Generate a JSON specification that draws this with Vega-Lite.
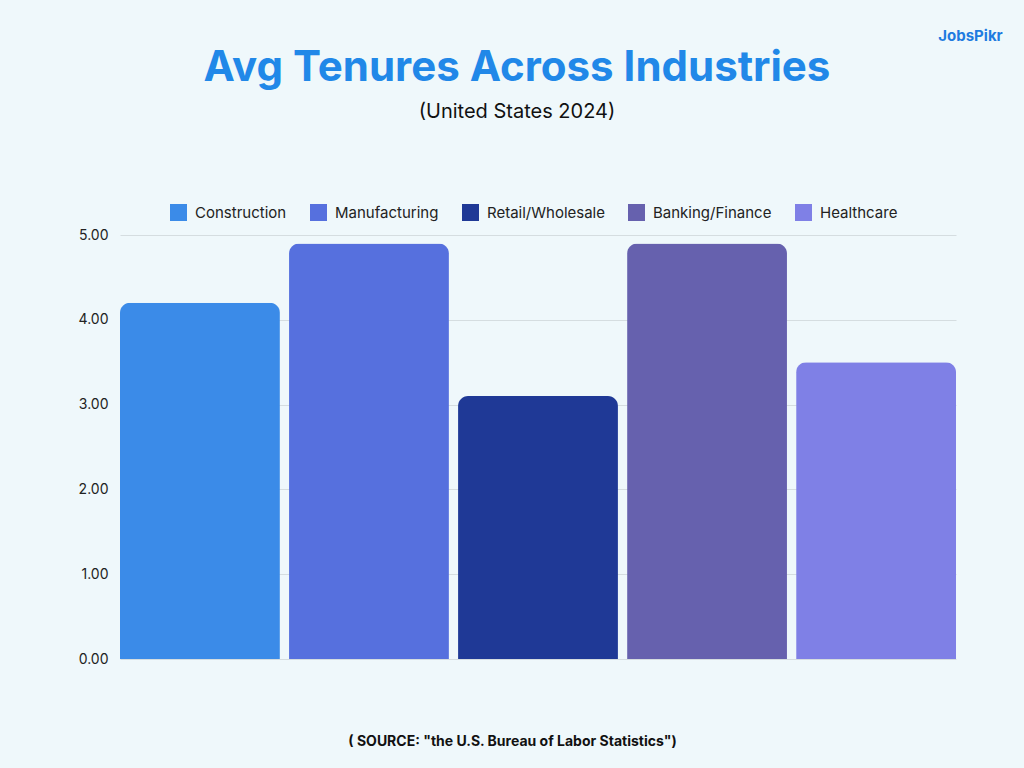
{
  "$schema": "https://vega.github.io/schema/vega-lite/v6.json",
  "width": 836,
  "height": 424,
  "autosize": "none",
  "padding": {"left": 120, "top": 235, "right": 68, "bottom": 109},
  "background": "#EFF8FB",
  "title": {
    "text": "Avg Tenures Across Industries",
    "subtitle": "(United States 2024)",
    "anchor": "middle",
    "frame": "group",
    "dx": -21,
    "font": "Inter",
    "fontSize": 42,
    "fontWeight": "bold",
    "color": "#2188E8",
    "subtitleFont": "Inter",
    "subtitleFontSize": 20,
    "subtitleColor": "#111111",
    "subtitlePadding": 12,
    "offset": -95
  },
  "data": {
    "values": [
      {"industry": "Construction", "tenure": 4.2},
      {"industry": "Manufacturing", "tenure": 4.9},
      {"industry": "Retail/Wholesale", "tenure": 3.1},
      {"industry": "Banking/Finance", "tenure": 4.9},
      {"industry": "Healthcare", "tenure": 3.5}
    ]
  },
  "mark": {"type": "bar", "cornerRadiusTopLeft": 10, "cornerRadiusTopRight": 10},
  "encoding": {
    "x": {
      "field": "industry",
      "type": "nominal",
      "sort": null,
      "scale": {"paddingInner": 0.054, "paddingOuter": 0},
      "axis": {
        "labels": false,
        "ticks": false,
        "domain": false,
        "title": "( SOURCE: \"the U.S. Bureau of Labor Statistics\")",
        "titleFont": "Inter",
        "titleFontSize": 14,
        "titleFontWeight": "bold",
        "titleColor": "#111111",
        "titleX": 392,
        "titleY": 82,
        "titleBaseline": "middle",
        "titleAnchor": null
      }
    },
    "y": {
      "field": "tenure",
      "type": "quantitative",
      "scale": {"domain": [0, 5]},
      "axis": {
        "values": [0, 1, 2, 3, 4, 5],
        "format": ".2f",
        "labelFont": "Inter",
        "labelFontSize": 14,
        "labelColor": "#222222",
        "labelPadding": 12,
        "ticks": false,
        "domain": false,
        "gridColor": "#D5DDE0",
        "title": "JobsPikr",
        "titleAngle": 0,
        "titleX": 850,
        "titleY": -200,
        "titleAlign": "center",
        "titleBaseline": "middle",
        "titleFont": "Inter",
        "titleFontSize": 15,
        "titleFontWeight": "bold",
        "titleColor": "#1E7BE0"
      }
    },
    "color": {
      "field": "industry",
      "type": "nominal",
      "sort": null,
      "scale": {
        "domain": ["Construction", "Manufacturing", "Retail/Wholesale", "Banking/Finance", "Healthcare"],
        "range": ["#3B8BE8", "#5670DE", "#1F3996", "#6661AE", "#7F80E6"]
      },
      "legend": {
        "orient": "none",
        "direction": "horizontal",
        "legendX": 50,
        "legendY": -31,
        "title": null,
        "symbolType": "square",
        "symbolSize": 289,
        "symbolOpacity": 1,
        "symbolStrokeWidth": 0,
        "labelFont": "Inter",
        "labelFontSize": 15,
        "labelColor": "#222222",
        "labelOffset": 8,
        "columnPadding": 23
      }
    }
  },
  "config": {"view": {"stroke": null}}
}
